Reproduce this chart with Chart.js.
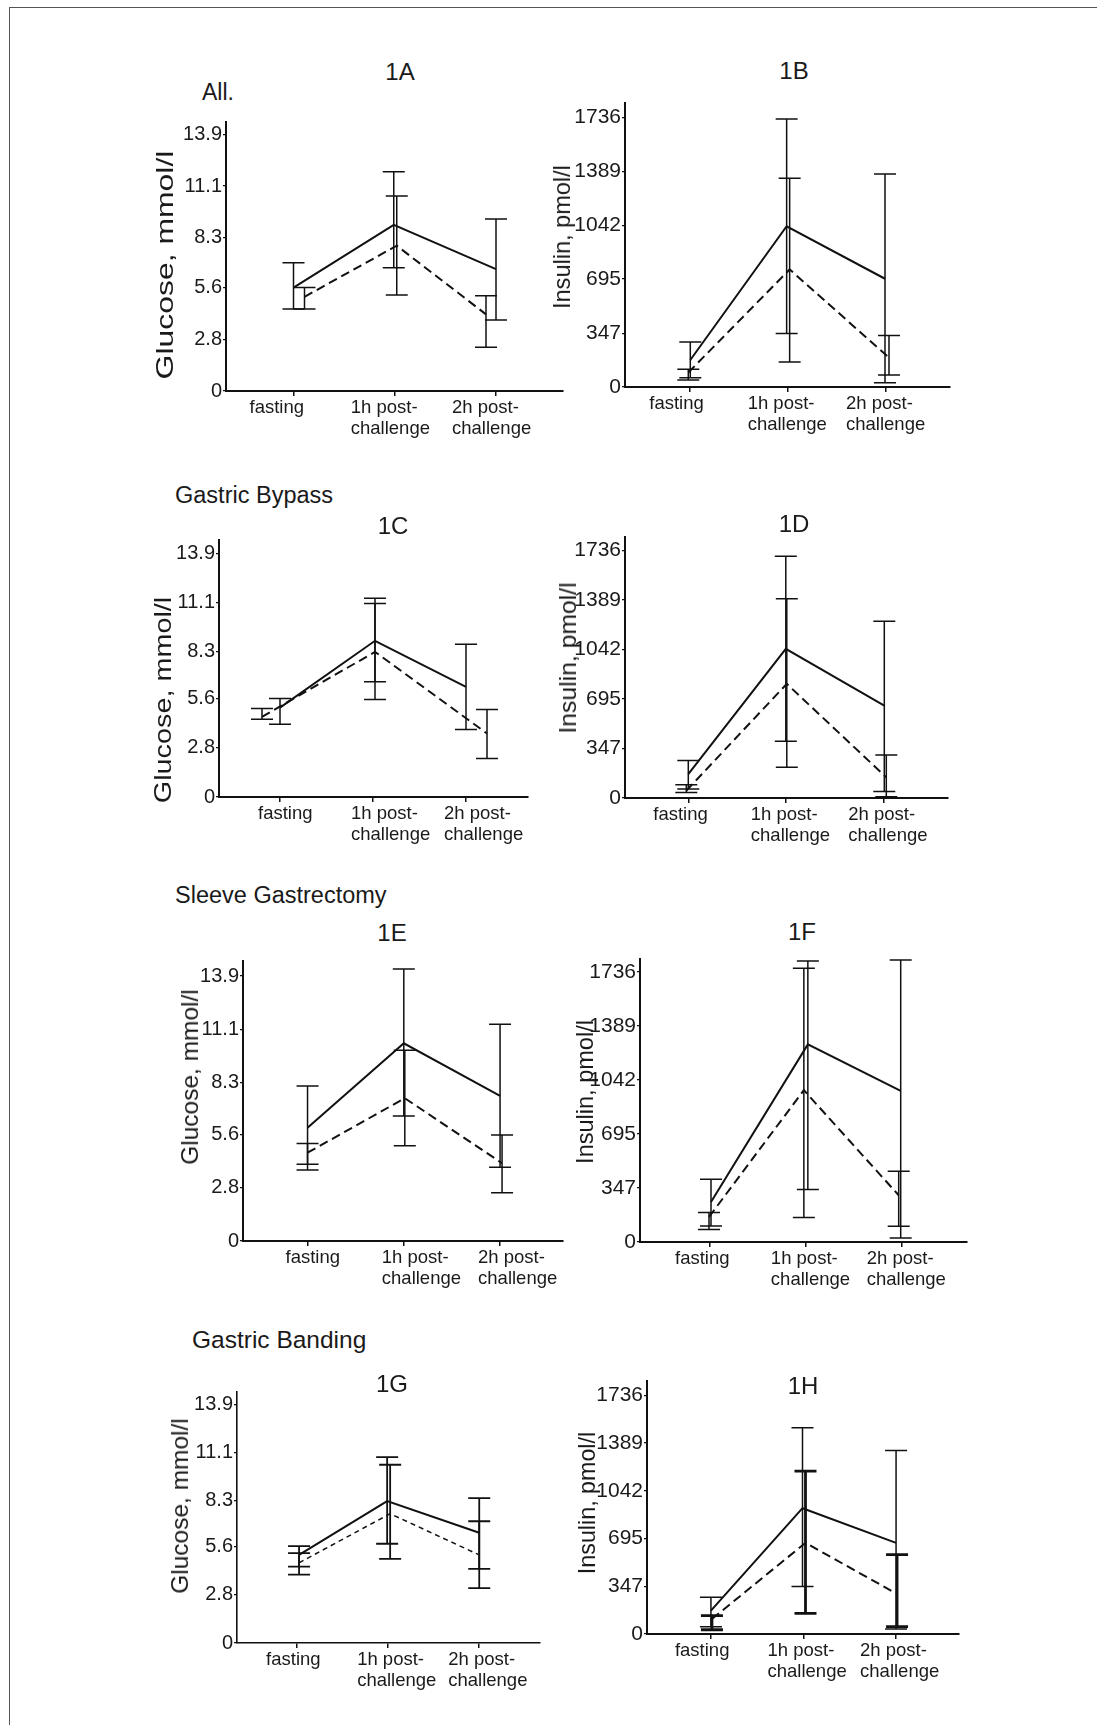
<!DOCTYPE html>
<html>
<head>
<meta charset="utf-8">
<script src="https://cdn.jsdelivr.net/npm/chart.js@4.4.0/dist/chart.umd.min.js"></script>
<style>
  html, body { margin: 0; padding: 0; background: #fff; }
  #page { position: relative; width: 1097px; height: 1725px; overflow: hidden;
          font-family: "Liberation Sans", Arial, sans-serif; color: #1a1a1a; }
  .frame-top { position: absolute; left: 9px; top: 7px; right: 0; border-top: 1.5px solid #555; }
  .frame-left { position: absolute; left: 9px; top: 7px; bottom: 0; border-left: 1.5px solid #555; }
  .txt { position: absolute; white-space: nowrap; line-height: 1; }
  canvas { position: absolute; }
</style>
</head>
<body>
<div id="page">
  <div class="frame-top"></div>
  <div class="frame-left"></div>
</div>
<script>
// ---- data ----
const categories = ['fasting', ['1h post-', 'challenge'], ['2h post-', 'challenge']];
const glucoseTicks = [0, 2.8, 5.6, 8.3, 11.1, 13.9];
const insulinTicks = [0, 347, 695, 1042, 1389, 1736];

// each entry: [lower error, mean, upper error] for fasting, 1h, 2h
const glucoseAllSolid = [[4.44, 5.6, 6.95], [6.68, 9.0, 11.87], [3.84, 6.6, 9.31]];
const glucoseAllDashed = [[4.44, 5.1, 5.6], [5.2, 7.87, 10.56], [2.37, 4.15, 5.16]];
const insulinAllSolid = [[60, 174, 289], [345, 1035, 1726], [28, 697, 1372]];
const insulinAllDashed = [[45, 93, 114], [161, 757, 1344], [77, 189, 332]];

const glucoseBypassSolid = [[4.15, 5.1, 5.62], [6.57, 8.91, 11.33], [3.85, 6.28, 8.72]];
const glucoseBypassDashed = [[4.44, 4.57, 5.05], [5.56, 8.28, 11.04], [2.19, 3.62, 4.99]];
const insulinBypassSolid = [[63, 168, 262], [397, 1046, 1694], [46, 648, 1238]];
const insulinBypassDashed = [[39, 51, 93], [215, 800, 1397], [9, 145, 302]];

const glucoseSleeveSolid = [[3.72, 5.94, 8.13], [6.56, 10.37, 14.27], [3.87, 7.61, 11.37]];
const glucoseSleeveDashed = [[4.02, 4.63, 5.12], [5.0, 7.49, 10.0], [2.53, 4.08, 5.56]];
const insulinSleeveSolid = [[103, 257, 403], [337, 1269, 1805], [26, 971, 1811]];
const insulinSleeveDashed = [[80, 161, 189], [157, 975, 1758], [101, 300, 455]];

const glucoseBandingSolid = [[4.45, 5.13, 5.64], [5.78, 8.26, 10.83], [4.32, 6.42, 8.44]];
const glucoseBandingDashed = [[3.98, 4.67, 5.23], [4.9, 7.53, 10.38], [3.19, 5.13, 7.09]];
const insulinBandingSolid = [[53, 170, 267], [345, 915, 1501], [36, 663, 1335]];
const insulinBandingDashed = [[31, 109, 133], [150, 663, 1184], [53, 291, 578]];

// ---- layout of each panel (pixels on the page) ----
const panels = [
  { solid: glucoseAllSolid, dashed: glucoseAllDashed, yTicks: glucoseTicks, tickFont: 20,
    axisX: 226, axisTop: 122, axisBottom: 391, axisRight: 563, tickPx: [293.5, 496], topTickPx: 134.3,
    labelOffset: -44, solidDodge: [0, -1, 0], dashDodge: [11, 2, -10] },
  { solid: insulinAllSolid, dashed: insulinAllDashed, yTicks: insulinTicks, tickFont: 21,
    axisX: 625, axisTop: 103.3, axisBottom: 387.7, axisRight: 950, tickPx: [689.3, 886], topTickPx: 117.7,
    labelOffset: -40, solidDodge: [1, -1, -1], dashDodge: [-1, 2, 3] },
  { solid: glucoseBypassSolid, dashed: glucoseBypassDashed, yTicks: glucoseTicks, tickFont: 20,
    axisX: 219, axisTop: 540, axisBottom: 796.7, axisRight: 528, tickPx: [280, 466], topTickPx: 553.3,
    labelOffset: -22, solidDodge: [0, 2, 0], dashDodge: [-18, 2, 21] },
  { solid: insulinBypassSolid, dashed: insulinBypassDashed, yTicks: insulinTicks, tickFont: 21,
    axisX: 625, axisTop: 536.7, axisBottom: 797.3, axisRight: 948, tickPx: [688.3, 883.3], topTickPx: 550,
    labelOffset: -35, solidDodge: [0, 0, 1], dashDodge: [-2, 1, 3] },
  { solid: glucoseSleeveSolid, dashed: glucoseSleeveDashed, yTicks: glucoseTicks, tickFont: 20,
    axisX: 242.7, axisTop: 961, axisBottom: 1241, axisRight: 563, tickPx: [307.3, 500], topTickPx: 976,
    labelOffset: -22, solidDodge: [0, 0, 0], dashDodge: [0, 1, 2] },
  { solid: insulinSleeveSolid, dashed: insulinSleeveDashed, yTicks: insulinTicks, tickFont: 21,
    axisX: 640, axisTop: 959, axisBottom: 1241.7, axisRight: 967, tickPx: [710, 901.7], topTickPx: 971.7,
    labelOffset: -35, solidDodge: [1, 2, -1], dashDodge: [-1, -2, -3] },
  { solid: glucoseBandingSolid, dashed: glucoseBandingDashed, yTicks: glucoseTicks, tickFont: 20,
    axisX: 237.3, axisTop: 1391.7, axisBottom: 1642.3, axisRight: 540, tickPx: [297.3, 479.3], topTickPx: 1404,
    labelOffset: -31, solidDodge: [2, -1, 0], dashDodge: [2, 2, 0],
    dash: [5, 4], dashWidth: 1.5, solidErr: 1.8, dashErr: 1.8, axisWidth: 1.6 },
  { solid: insulinBandingSolid, dashed: insulinBandingDashed, yTicks: insulinTicks, tickFont: 21,
    axisX: 646.7, axisTop: 1380.7, axisBottom: 1633.3, axisRight: 959, tickPx: [710.7, 896], topTickPx: 1395,
    labelOffset: -36, solidDodge: [0, -1, 0], dashDodge: [1, 2, 1], dashErr: 2.8 }
];

// headings, panel ids and axis titles
const labels = [
  { text: 'All.', x: 218, y: 92, size: 23, center: true },
  { text: '1A', x: 400, y: 72, size: 24, center: true },
  { text: '1B', x: 794, y: 71, size: 24, center: true },
  { text: 'Gastric Bypass', x: 175, y: 496, size: 23.5 },
  { text: '1C', x: 393, y: 526, size: 24, center: true },
  { text: '1D', x: 794, y: 524, size: 24, center: true },
  { text: 'Sleeve Gastrectomy', x: 175, y: 896, size: 23.5 },
  { text: '1E', x: 392, y: 933, size: 24, center: true },
  { text: '1F', x: 802, y: 932, size: 24, center: true },
  { text: 'Gastric Banding', x: 192, y: 1340, size: 24.5 },
  { text: '1G', x: 392, y: 1384, size: 24, center: true },
  { text: '1H', x: 803, y: 1386, size: 24, center: true }
];
const yTitles = [
  { text: 'Glucose, mmol/l', x: 165, y: 265, stretch: 1.33 },
  { text: 'Insulin, pmol/l', x: 562, y: 237, stretch: 0.98 },
  { text: 'Glucose, mmol/l', x: 163, y: 700, stretch: 1.2 },
  { text: 'Insulin, pmol/l', x: 568, y: 658, stretch: 1.03 },
  { text: 'Glucose, mmol/l', x: 190, y: 1077, stretch: 1.02 },
  { text: 'Insulin, pmol/l', x: 585, y: 1092, stretch: 0.98 },
  { text: 'Glucose, mmol/l', x: 180, y: 1506, stretch: 1.02 },
  { text: 'Insulin, pmol/l', x: 587, y: 1503, stretch: 0.97 }
];

const page = document.getElementById('page');

// vertical error bars with caps, drawn through the chart's scales
const errorBars = {
  id: 'errorBars',
  afterDatasetsDraw(chart, args, opts) {
    const { ctx, scales: { x, y } } = chart;
    ctx.save();
    ctx.strokeStyle = '#111';
    chart.data.datasets.forEach(ds => {
      ctx.lineWidth = ds.errWidth;
      ds.data.forEach((pt, i) => {
        const [lo, , hi] = ds.source[i];
        const px = x.getPixelForValue(pt.x);
        const yl = y.getPixelForValue(lo);
        const yh = y.getPixelForValue(hi);
        ctx.beginPath();
        ctx.moveTo(px, yl); ctx.lineTo(px, yh);
        ctx.moveTo(px - opts.cap, yl); ctx.lineTo(px + opts.cap, yl);
        ctx.moveTo(px - opts.cap, yh); ctx.lineTo(px + opts.cap, yh);
        ctx.stroke();
      });
    });
    ctx.restore();
  }
};

Chart.defaults.font.family = '"Liberation Sans", Arial, sans-serif';
Chart.defaults.color = '#1a1a1a';

const YW = 80, XH = 64, PT = 14, PR = 40;

panels.forEach(p => {
  const canvas = document.createElement('canvas');
  const w = Math.round(YW + (p.axisRight - p.axisX) + PR);
  const h = Math.round(PT + (p.axisBottom - p.axisTop) + XH);
  canvas.width = w;
  canvas.height = h;
  canvas.style.width = w + 'px';
  canvas.style.height = h + 'px';
  canvas.style.left = (p.axisX - YW) + 'px';
  canvas.style.top = (p.axisTop - PT) + 'px';
  page.appendChild(canvas);

  const u = (p.tickPx[1] - p.tickPx[0]) / 2;
  const topTick = p.yTicks[p.yTicks.length - 1];
  const yMax = topTick * (p.axisBottom - p.axisTop) / (p.axisBottom - p.topTickPx);

  const series = (src, dodge, extra) => Object.assign({
    data: src.map((d, i) => ({ x: i + dodge[i] / u, y: d[1] })),
    source: src,
    borderColor: '#111',
    borderWidth: 2,
    pointRadius: 0,
    tension: 0,
    fill: false
  }, extra);

  const axisColor = '#111';
  const axisWidth = p.axisWidth || 2;

  new Chart(canvas, {
    type: 'line',
    data: {
      datasets: [
        series(p.solid, p.solidDodge, { errWidth: p.solidErr || 1.5 }),
        series(p.dashed, p.dashDodge, {
          borderDash: p.dash || [9, 5],
          borderWidth: p.dashWidth || 2,
          errWidth: p.dashErr || 1.5
        })
      ]
    },
    options: {
      responsive: false,
      animation: false,
      events: [],
      layout: { padding: { top: PT, right: PR, left: 0, bottom: 0 } },
      plugins: {
        legend: { display: false },
        tooltip: { enabled: false },
        errorBars: { cap: 11 }
      },
      scales: {
        x: {
          type: 'linear',
          bounds: 'data',
          min: (p.axisX - p.tickPx[0]) / u,
          max: (p.axisRight - p.tickPx[0]) / u,
          afterBuildTicks: s => { s.ticks = [0, 1, 2].map(v => ({ value: v })); },
          afterFit: s => { s.height = XH; s.paddingLeft = 0; s.paddingRight = 0; },
          grid: { drawOnChartArea: false, color: axisColor, tickLength: 5, lineWidth: 1.5 },
          border: { color: axisColor, width: axisWidth },
          ticks: {
            callback: v => categories[v],
            align: 'start',
            labelOffset: p.labelOffset,
            padding: 2,
            maxRotation: 0,
            autoSkip: false,
            color: '#1a1a1a',
            font: { size: 18.5, lineHeight: 1.1 }
          }
        },
        y: {
          type: 'linear',
          bounds: 'data',
          min: 0,
          max: yMax,
          afterBuildTicks: s => { s.ticks = p.yTicks.map(v => ({ value: v })); },
          afterFit: s => { s.width = YW; s.paddingTop = 0; s.paddingBottom = 0; },
          grid: { drawOnChartArea: false, color: axisColor, tickLength: 3, lineWidth: 1.2 },
          border: { color: axisColor, width: axisWidth },
          ticks: {
            callback: v => String(v),
            padding: 1,
            color: '#1a1a1a',
            font: { size: p.tickFont }
          }
        }
      }
    },
    plugins: [errorBars]
  });
});

labels.forEach(l => {
  const d = document.createElement('div');
  d.className = 'txt';
  d.textContent = l.text;
  d.style.fontSize = l.size + 'px';
  d.style.left = l.x + 'px';
  d.style.top = l.y + 'px';
  d.style.transform = l.center ? 'translate(-50%, -50%)' : 'translate(0, -50%)';
  page.appendChild(d);
});

yTitles.forEach(t => {
  const d = document.createElement('div');
  d.className = 'txt';
  d.textContent = t.text;
  d.style.fontSize = '24px';
  d.style.left = t.x + 'px';
  d.style.top = t.y + 'px';
  d.style.transform = 'translate(-50%, -50%) rotate(-90deg) scaleX(' + t.stretch + ')';
  page.appendChild(d);
});
</script>
</body>
</html>
